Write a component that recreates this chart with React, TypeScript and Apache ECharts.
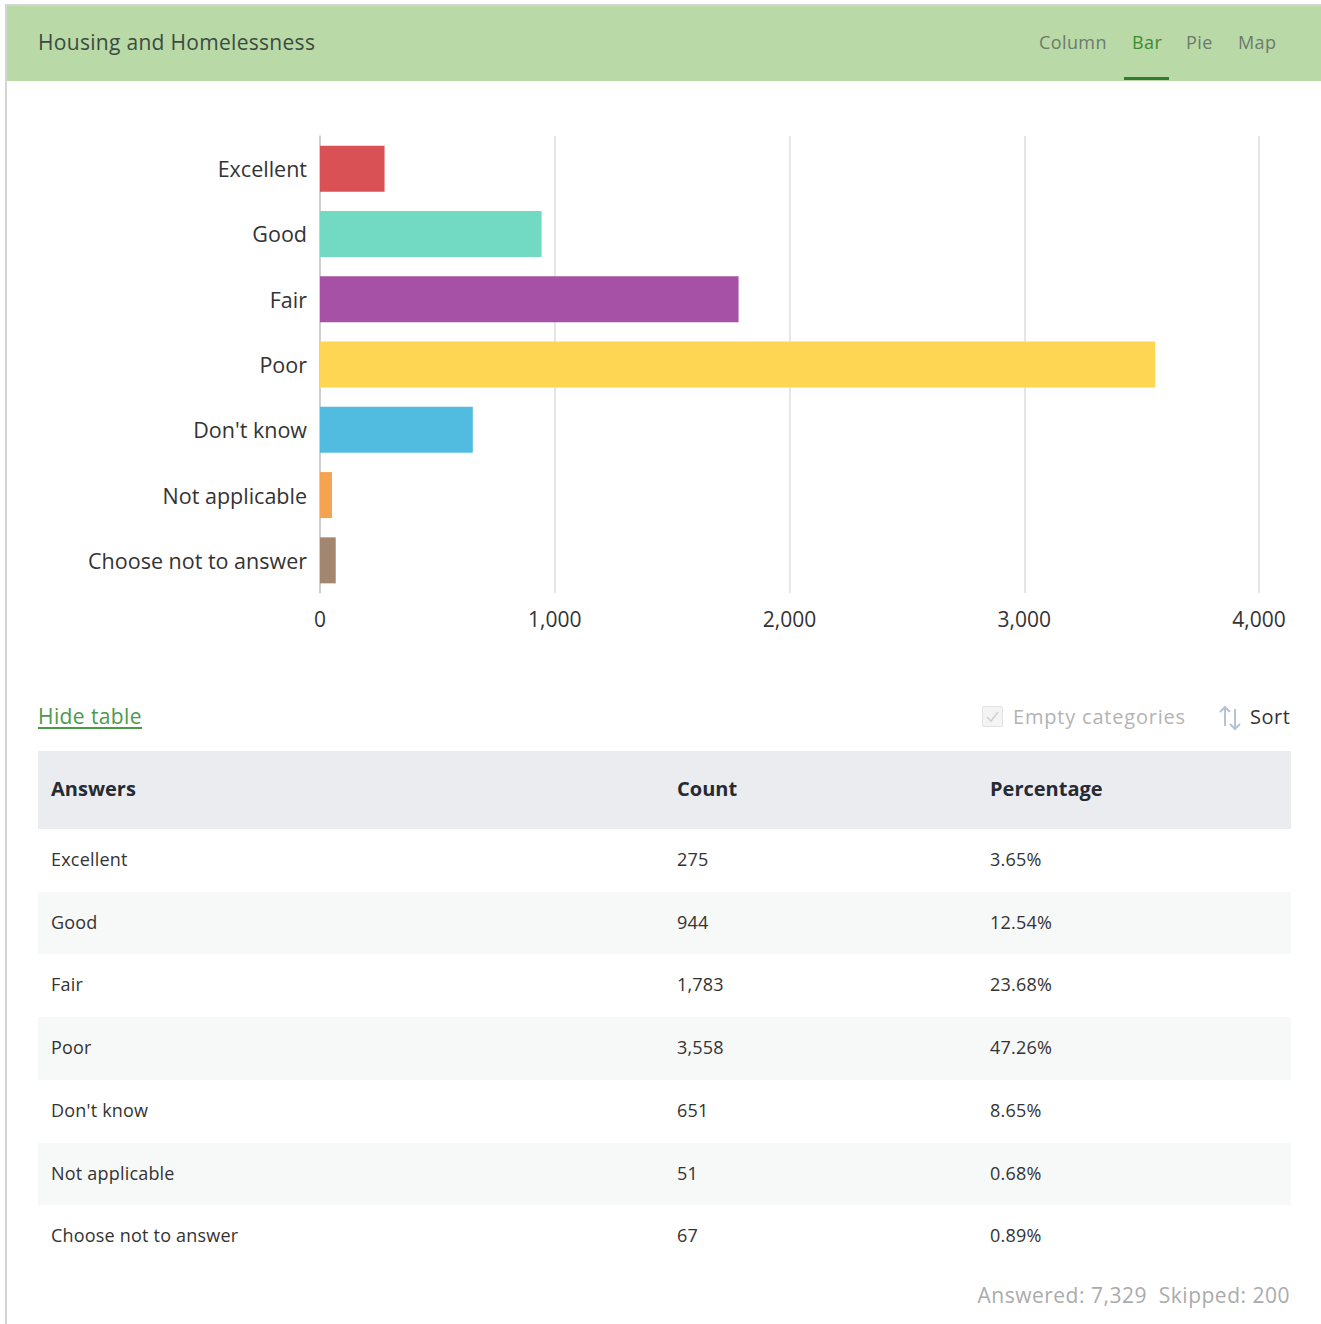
import React, { useEffect, useRef } from "react";
import * as echarts from "echarts";

const categories = ["Excellent", "Good", "Fair", "Poor", "Don't know", "Not applicable", "Choose not to answer"];
const counts = [275, 944, 1783, 3558, 651, 51, 67];
const countLabels = ["275", "944", "1,783", "3,558", "651", "51", "67"];
const percentages = ["3.65%", "12.54%", "23.68%", "47.26%", "8.65%", "0.68%", "0.89%"];
const barColors = ["#d84b4e", "#6dd8c0", "#a34aa3", "#ffd54d", "#4cb9df", "#f5a04b", "#a0826a"];
const xTicks = [0, 1000, 2000, 3000, 4000];
const tabs = ["Column", "Bar", "Pie", "Map"];

const FONT = "'Open Sans', Lato, sans-serif";

function Chart() {
  const ref = useRef<HTMLDivElement>(null);
  useEffect(() => {
    if (!ref.current) return;
    const chart = echarts.init(ref.current, undefined, { renderer: "svg" });
    chart.setOption({
      animation: false,
      grid: { left: 320, right: 62, top: 54, bottom: 89 },
      xAxis: {
        type: "value",
        min: xTicks[0],
        max: xTicks[xTicks.length - 1],
        interval: 1000,
        axisLine: { show: false },
        axisTick: { show: false },
        splitLine: { show: true, lineStyle: { color: "#dedede", width: 1.5 } },
        axisLabel: {
          color: "#333",
          fontSize: 21,
          fontFamily: FONT,
          margin: 15,
          formatter: (v: number) => v.toLocaleString("en-US"),
        },
      },
      yAxis: {
        type: "category",
        data: categories,
        inverse: true,
        axisLine: { show: true, lineStyle: { color: "#c8c8c8", width: 1.5 } },
        axisTick: { show: false },
        axisLabel: { color: "#333", fontSize: 21.5, fontFamily: FONT, margin: 13 },
      },
      series: [
        {
          type: "bar",
          barWidth: 46,
          data: counts.map((v, i) => ({ value: v, itemStyle: { color: barColors[i], opacity: 0.97 } })),
        },
      ],
    });
    return () => chart.dispose();
  }, []);
  return <div ref={ref} style={{ position: "absolute", left: 0, top: 82, width: 1321, height: 600 }} />;
}

export default function App() {
  return (
    <div style={{ position: "relative", width: 1321, height: 1324, overflow: "hidden", background: "#fff", fontFamily: FONT }}>
      <style>{"body{margin:0;}"}</style>
      <div style={{ position: "absolute", left: 5, top: 4, width: 1340, height: 1400, borderLeft: "2px solid #d4d4d4", borderTop: "2px solid #d4d4d4" }} />
      <div style={{ position: "absolute", left: 7, top: 6, width: 1314, height: 75, background: "#b9d9a6" }} />
      <div style={{ position: "absolute", left: 38, top: 28, fontSize: 21, letterSpacing: 0.3, color: "#3c4a42", lineHeight: "28px", whiteSpace: "nowrap" }}>
        Housing and Homelessness
      </div>
      {tabs.map((t, i) => {
        const xs = [1039, 1132, 1186, 1238];
        return (
          <div key={t} style={{ position: "absolute", left: xs[i], top: 30, fontSize: 18, letterSpacing: 0.4, lineHeight: "25px", color: t === "Bar" ? "#3d8b2f" : "#6e7a6e", whiteSpace: "nowrap" }}>
            {t}
          </div>
        );
      })}
      <div style={{ position: "absolute", left: 1124, top: 77, width: 45, height: 3, background: "#2f7d2f" }} />

      <Chart />

      <div style={{ position: "absolute", left: 38, top: 702, fontSize: 21, letterSpacing: 0.4, lineHeight: "28px", color: "#4a9a4a", textDecoration: "underline", textUnderlineOffset: 3 }}>
        Hide table
      </div>
      <div style={{ position: "absolute", left: 982, top: 706, width: 21, height: 21, border: "1px solid #e2e2e2", borderRadius: 2, background: "#f4f4f4", boxSizing: "border-box" }}>
        <svg width="19" height="19" viewBox="0 0 19 19" style={{ position: "absolute", left: 0, top: 0 }}>
          <polyline points="4,10 8,14 15,5" fill="none" stroke="#cfcfcf" strokeWidth="1.5" />
        </svg>
      </div>
      <div style={{ position: "absolute", left: 1013, top: 703, fontSize: 20, letterSpacing: 0.8, lineHeight: "27px", color: "#b3b3b3", whiteSpace: "nowrap" }}>
        Empty categories
      </div>
      <svg width="24" height="28" viewBox="0 0 24 28" style={{ position: "absolute", left: 1218, top: 704 }}>
        <line x1="7" y1="3" x2="7" y2="22" stroke="#b8c3cf" strokeWidth="2" />
        <polyline points="2,8 7,3 12,8" fill="none" stroke="#b8c3cf" strokeWidth="2" />
        <line x1="17" y1="5" x2="17" y2="25" stroke="#b8c3cf" strokeWidth="2" />
        <polyline points="12,20 17,25 22,20" fill="none" stroke="#b8c3cf" strokeWidth="2" />
      </svg>
      <div style={{ position: "absolute", left: 1250, top: 703, fontSize: 20, letterSpacing: 0.5, lineHeight: "27px", color: "#333", whiteSpace: "nowrap" }}>
        Sort
      </div>

      <div style={{ position: "absolute", left: 38, top: 751, width: 1253, height: 78, background: "#ebecf0" }} />
      {[
        ["Answers", 51],
        ["Count", 677],
        ["Percentage", 990],
      ].map(([t, x]) => (
        <div key={t as string} style={{ position: "absolute", left: x as number, top: 775, fontSize: 20, fontWeight: 700, lineHeight: "27px", color: "#262a33", whiteSpace: "nowrap" }}>
          {t}
        </div>
      ))}
      {categories.map((c, i) => {
        const top = 829 + i * 62.7;
        const txt = { position: "absolute" as const, top: top + 18, fontSize: 18, letterSpacing: 0.2, lineHeight: "24px", color: "#333", whiteSpace: "nowrap" as const };
        return (
          <React.Fragment key={c}>
            <div style={{ position: "absolute", left: 38, top, width: 1253, height: 62.7, background: i % 2 === 1 ? "#f7f8f8" : "#fff" }} />
            <div style={{ ...txt, left: 51 }}>{c}</div>
            <div style={{ ...txt, left: 677 }}>{countLabels[i]}</div>
            <div style={{ ...txt, left: 990 }}>{percentages[i]}</div>
          </React.Fragment>
        );
      })}
      <div style={{ position: "absolute", right: 31, top: 1281, fontSize: 21, letterSpacing: 0.5, lineHeight: "28px", color: "#ababab", whiteSpace: "pre" }}>
        {"Answered: 7,329  Skipped: 200"}
      </div>
    </div>
  );
}
